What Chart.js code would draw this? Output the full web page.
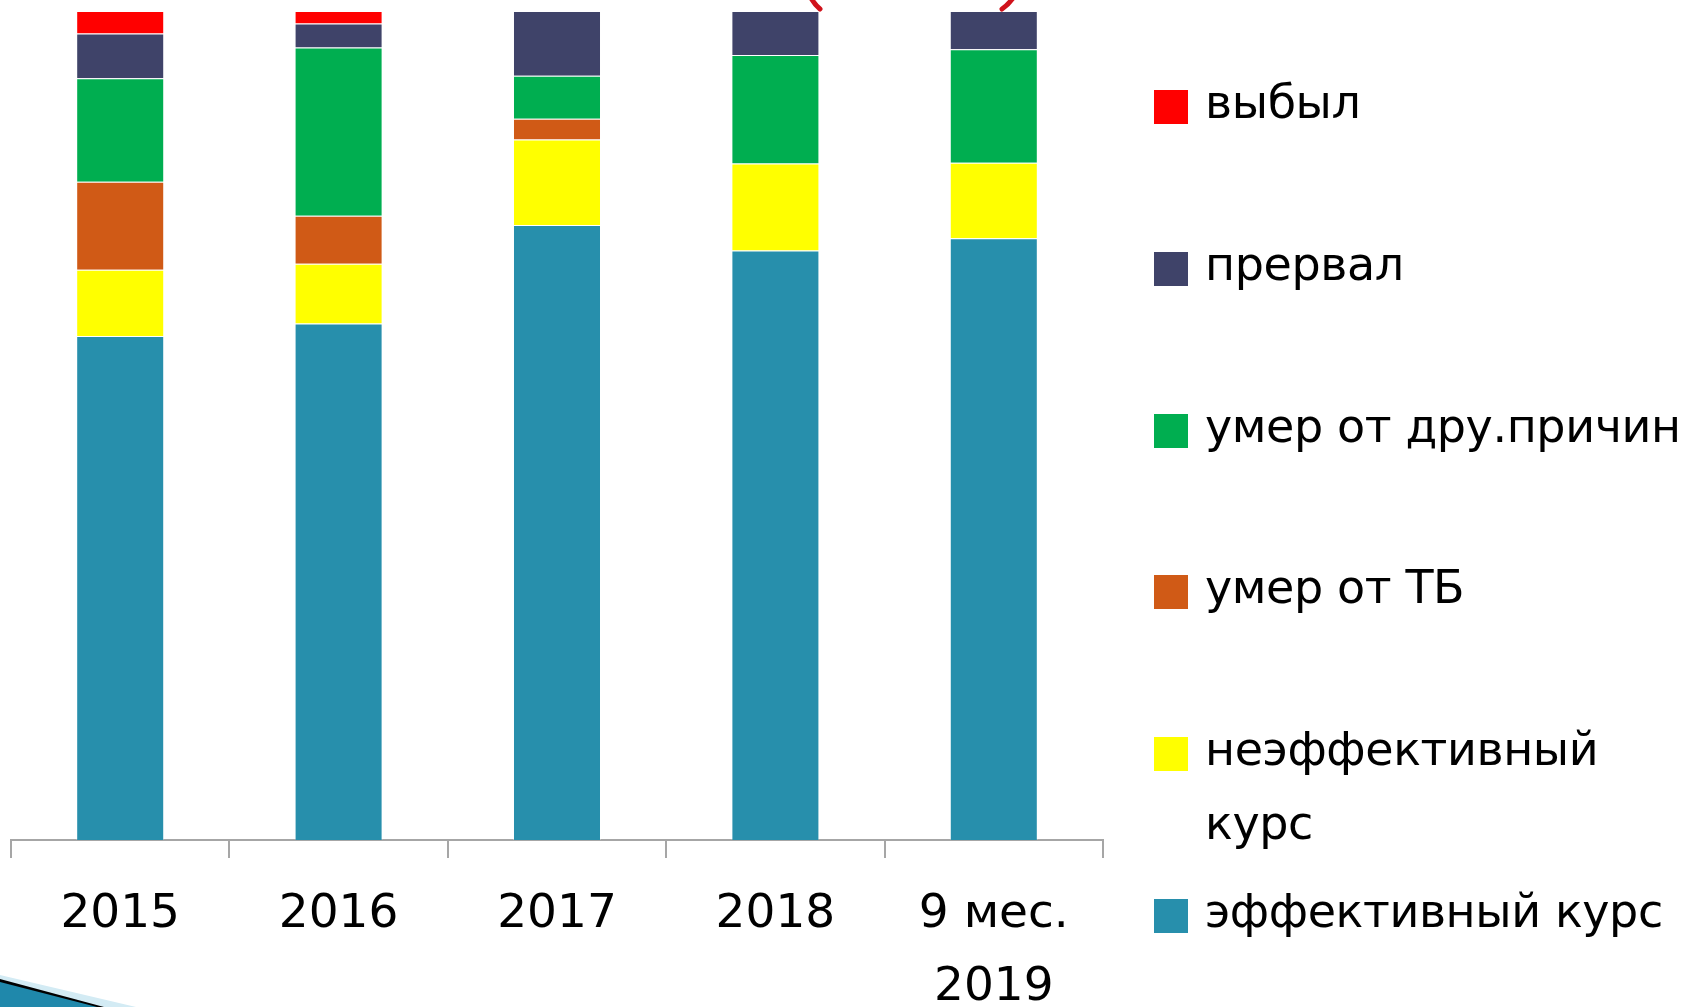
<!DOCTYPE html>
<html lang="ru">
<head>
<meta charset="UTF-8">
<title>Исходы лечения</title>
<style>
  * { box-sizing: border-box; }
  body { margin: 0; background: #fff; font-family: 'DejaVu Sans', sans-serif; }
  #wrap { position: relative; width: 1687px; height: 1007px; overflow: hidden; }
  #chart { position: absolute; left: 0; top: 0; }
  .leg-item { position: absolute; left: 1154px; display: flex; align-items: flex-start; }
  .leg-box { width: 34px; height: 34px; margin-top: 25px; flex: none; }
  .leg-text { margin-left: 17px; font-size: 46px; letter-spacing: -0.4px; line-height: 74px; color: #000; white-space: nowrap; }
</style>
<script src="https://cdn.jsdelivr.net/npm/chart.js"></script>
</head>
<body>
<div id="wrap">
  <canvas id="chart" width="1687" height="1007"></canvas>
  <div id="legend"></div>
</div>
<script>
// categories (x axis)
const categories = ['2015', '2016', '2017', '2018', ['9 мес.', '2019']];

// shares of outcomes, %
const effective   = [60.8, 62.3, 74.2, 71.1, 72.6];
const ineffective = [8.0, 7.2, 10.3, 10.5, 9.1];
const diedTB      = [10.6, 5.8, 2.5, 0, 0];
const diedOther   = [12.5, 20.3, 5.2, 13.1, 13.7];
const interrupted = [5.4, 2.9, 7.8, 5.3, 4.6];
const droppedOut  = [2.7, 1.5, 0, 0, 0];

const seriesNames  = ['эффективный курс', 'неэффективный курс', 'умер от ТБ', 'умер от дру.причин', 'прервал', 'выбыл'];
const legendLines  = [['эффективный курс'], ['неэффективный', 'курс'], ['умер от ТБ'], ['умер от дру.причин'], ['прервал'], ['выбыл']];
const seriesColors = ['#278FAC', '#FFFF00', '#D05A16', '#00AE50', '#3F4369', '#FF0000'];
const seriesData   = [effective, ineffective, diedTB, diedOther, interrupted, droppedOut];

// slide decorations (swoosh bottom-left, cut red oval at top)
const decor = {
  id: 'decor',
  afterDraw(chart) {
    const c = chart.ctx;
    c.save();
    c.fillStyle = '#d3ebf4';
    c.beginPath(); c.moveTo(0, 975); c.lineTo(136, 1007); c.lineTo(0, 1007); c.fill();
    c.fillStyle = '#000';
    c.beginPath(); c.moveTo(0, 979); c.lineTo(104, 1007); c.lineTo(0, 1007); c.fill();
    c.fillStyle = '#1f88ab';
    c.beginPath(); c.moveTo(0, 982); c.lineTo(97, 1007); c.lineTo(0, 1007); c.fill();
    c.strokeStyle = '#d0121b'; c.lineWidth = 5; c.lineCap = 'round';
    c.beginPath(); c.moveTo(811, -2); c.quadraticCurveTo(815, 5, 820, 9); c.stroke();
    c.beginPath(); c.moveTo(1013, -2); c.quadraticCurveTo(1008, 5, 1002, 9); c.stroke();
    c.restore();
  }
};

new Chart(document.getElementById('chart'), {
  type: 'bar',
  data: {
    labels: categories,
    datasets: seriesData.map((d, i) => ({
      label: seriesNames[i],
      data: d,
      backgroundColor: seriesColors[i],
      borderColor: 'rgba(255,255,255,0.3)',
      borderWidth: 1,
      categoryPercentage: 1,
      barPercentage: 0.403
    }))
  },
  options: {
    responsive: false,
    animation: false,
    layout: { padding: { left: 11, right: 584, top: 11, bottom: 0 } },
    plugins: { legend: { display: false }, tooltip: { enabled: false } },
    scales: {
      x: {
        stacked: true,
        border: { color: '#a6a6a6', width: 2 },
        grid: { drawOnChartArea: false, color: '#a6a6a6', lineWidth: 2, tickLength: 18 },
        ticks: { color: '#000', padding: 20, maxRotation: 0, autoSkip: false,
                 font: { family: 'DejaVu Sans', size: 47, lineHeight: 1.56 } },
        afterFit(scale) { scale.height = 167; }
      },
      y: { stacked: true, display: false, min: 0, max: 100 }
    }
  },
  plugins: [decor]
});

// legend, top entry = last series
const legend = document.getElementById('legend');
const order = [5, 4, 3, 2, 1, 0];
order.forEach((idx, row) => {
  const item = document.createElement('div');
  item.className = 'leg-item';
  item.style.top = (65 + row * 161.8) + 'px';
  const box = document.createElement('div');
  box.className = 'leg-box';
  box.style.background = seriesColors[idx];
  const txt = document.createElement('div');
  txt.className = 'leg-text';
  txt.innerHTML = legendLines[idx].join('<br>');
  item.appendChild(box);
  item.appendChild(txt);
  legend.appendChild(item);
});
</script>
</body>
</html>
